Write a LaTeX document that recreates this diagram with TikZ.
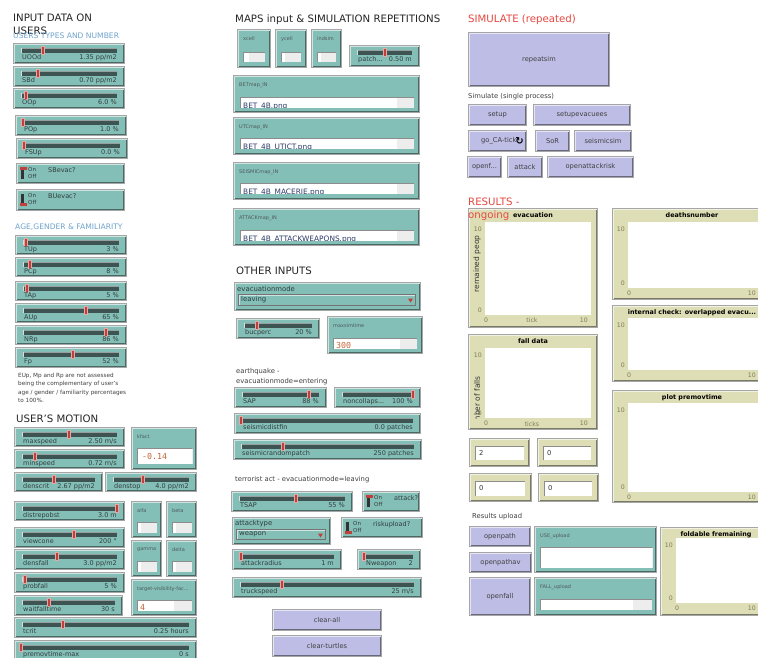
\documentclass[tikz,border=0pt]{standalone}
\usepackage{fontspec}
\setmainfont{DejaVu Sans}
\newfontfamily\monof{DejaVu Sans Mono}
\definecolor{teal1}{HTML}{84BFB7}
\definecolor{btnc}{HTML}{BDBDE6}
\definecolor{beige}{HTML}{DEDEB6}
\definecolor{trk}{HTML}{3E5452}
\definecolor{knob}{HTML}{C2403C}
\definecolor{txt}{HTML}{2F3D3D}
\definecolor{hblue}{HTML}{6FA3CC}
\definecolor{hred}{HTML}{E5483F}
\definecolor{orng}{HTML}{C8643A}
\definecolor{axisc}{HTML}{7D7B55}
\definecolor{navy}{HTML}{2B3A67}

\newcommand\wframe[5]{%
 \fill[black!35] (#1,#2) rectangle (#3,#4);
 \fill[#5] (#1+1,#2+1) rectangle (#3-1,#4-1);
 \draw[white!60!#5,line width=0.9pt] (#1+1.5,#4-1.5) -- (#1+1.5,#2+1.5) -- (#3-1.5,#2+1.5);
 \draw[black!45!#5,line width=0.9pt] (#1+1.5,#4-1.5) -- (#3-1.5,#4-1.5) -- (#3-1.5,#2+1.5);
}
\newcommand\sld[7]{%
 \wframe{#1}{#2}{#3}{#4}{teal1}
 \fill[trk] (#1+8,#2+5) rectangle (#3-8,#2+10);
 \draw[trk!55!white,line width=0.6pt] (#1+8,#2+5.3) -- (#3-8,#2+5.3);
 \draw[white!80!trk,line width=0.6pt] (#1+8.3,#2+5) -- (#1+8.3,#2+10);
 \fill[knob!45!white] (#5-2,#2+3) rectangle (#5+2,#2+11.5);
 \fill[knob] (#5-1.3,#2+3.7) rectangle (#5+1.3,#2+10.8);
 \node[slbl] at (#1+9,#2+14.5) {#6};
 \node[sval] at (#3-8,#2+14.5) {#7};
}
\newcommand\swt[6]{%
 \wframe{#1}{#2}{#3}{#4}{teal1}
 \fill[black!80] (#1+5,#2+5) rectangle (#1+8,#2+16);
 \ifnum#5=1 \fill[knob] (#1+4,#2+4) rectangle (#1+11,#2+7);
 \else \fill[knob] (#1+4,#2+14) rectangle (#1+11,#2+17);\fi
 \node[onoff] at (#1+12,#2+6.5) {On};
 \node[onoff] at (#1+12,#2+13.5) {Off};
 \node[slbl] at (#1+32,#2+7.5) {#6};
}
\newcommand\inpw[5]{%
 \wframe{#1}{#2}{#3}{#4}{teal1}
 \node[tinyl] at (#1+6,#2+10) {#5};
}
\newcommand\fld[5]{%
 \fill[black!45] (#1,#2) rectangle (#3,#4);
 \fill[white] (#1+0.8,#2+0.8) rectangle (#3-0.4,#4-0.4);
 \fill[black!7] (#5,#2+0.8) rectangle (#3-0.4,#4-0.4);
}
\newcommand\fldtxt[6]{%
 \begin{scope}
 \clip (#1+1,#2+1) rectangle (#3-1,#4-0.5);
 \node[#5] at (#1+3,#2+10.3) {#6};
 \end{scope}
}
\newcommand\btn[5]{%
 \wframe{#1}{#2}{#3}{#4}{btnc}
 \node[blbl] at ({(#1+#3)/2},{(#2+#4)/2}) {#5};
}
\newcommand\chs[6]{%
 \wframe{#1}{#2}{#3}{#4}{teal1}
 \node[chl] at (#1+3,#2+6.5) {#5};
 \fill[black!55] (#1+4,#2+12) rectangle (#3-5,#4-5);
 \fill[teal1] (#1+5,#2+13) rectangle (#3-6,#4-6);
 \draw[white!60!teal1,line width=0.8pt] (#1+5.4,#4-6) -- (#1+5.4,#2+13.4) -- (#3-6,#2+13.4);
 \node[chl] at (#1+7,{(#2+#4+7)/2}) {#6};
 \fill[knob] (#3-13,#2+16.5) -- (#3-8,#2+16.5) -- (#3-10.5,#2+20.5) -- cycle;
}
\newcommand\plotw[9]{%
 \wframe{#1}{#2}{#3}{#4}{beige}
 \fill[white] (#5,#6) rectangle (#7,#8);
 \node[ptitle] at ({(#1+#3)/2},#2+7.5) {#9};
 \node[ax,anchor=east] at (#5-3,#6+7) {10};
 \node[ax,anchor=east] at (#5-3,#8-5) {0};
 \node[ax] at (#5+1,#8+5) {0};
 \node[ax,anchor=east] at (#7-3,#8+5) {10};
}
\newcommand\mon[9]{%
 \wframe{#1}{#2}{#3}{#4}{beige}
 \fill[black!45] (#5,#6) rectangle (#7,#8);
 \fill[white] (#5+0.8,#6+0.8) rectangle (#7-0.4,#8-0.4);
 \node[mval] at (#5+4,{(#6+#8)/2}) {#9};
}

\begin{document}
\begin{tikzpicture}[x=1pt,y=-1pt,
 slbl/.style={font=\fontsize{6.5}{7}\selectfont,text=txt,inner sep=0pt,anchor=west},
 sval/.style={slbl,anchor=east},
 tinyl/.style={font=\fontsize{5}{6}\selectfont,text=txt!85,inner sep=0pt,anchor=west},
 onoff/.style={font=\fontsize{5.5}{6}\selectfont,text=txt,inner sep=0pt,anchor=west},
 chl/.style={font=\fontsize{6.9}{7}\selectfont,text=txt,inner sep=0pt,anchor=west},
 blbl/.style={font=\fontsize{6.7}{7}\selectfont,text=black!75,inner sep=0pt},
 head/.style={font=\fontsize{10.2}{11}\selectfont,text=black!85,inner sep=0pt,anchor=west},
 subhead/.style={font=\fontsize{7.6}{8}\selectfont,text=hblue,inner sep=0pt,anchor=west},
 small/.style={font=\fontsize{6.8}{7}\selectfont,text=black!75,inner sep=0pt,anchor=west},
 note/.style={font=\fontsize{5.7}{8.3}\selectfont,text=black!75,inner sep=0pt,anchor=north west,align=left},
 ptitle/.style={font=\bfseries\fontsize{6.4}{7}\selectfont,inner sep=0pt},
 ax/.style={font=\fontsize{6.2}{7}\selectfont,text=axisc,inner sep=0pt},
 ylab/.style={font=\fontsize{7.5}{8}\selectfont,text=black!80,inner sep=0pt,rotate=90},
 monov/.style={font=\monof\fontsize{8.3}{9}\selectfont,text=orng,inner sep=0pt,anchor=base west},
 fname/.style={font=\fontsize{7.4}{8}\selectfont,text=navy,inner sep=0pt,anchor=base west,yshift=-1.2pt},
 mval/.style={font=\fontsize{6.8}{7}\selectfont,text=black!80,inner sep=0pt,anchor=west}]
\useasboundingbox (0,0) rectangle (758,657);
\clip (0,0) rectangle (758,657);
\fill[white] (0,0) rectangle (758,657);

% ---------------- left column
\node[head] (h1) at (13,18) {INPUT DATA ON};
\node[head] (h1b) at (13,31) {USERS};
\node[subhead] (s1) at (13,36) {USERS TYPES AND NUMBER};
\sld{13}{43}{125}{64}{43}{UOOd}{1.35 pp/m2}
\sld{13}{66}{125}{87}{38}{SBd}{0.70 pp/m2}
\sld{13}{88}{125}{109}{26}{OOp}{6.0 \%}
\sld{15}{115}{127}{136}{23}{POp}{1.0 \%}
\sld{16}{138}{128}{159}{24}{FSUp}{0.0 \%}
\swt{16}{163}{125}{184}{1}{SBevac?}
\swt{16}{189}{125}{211}{0}{BUevac?}
\node[subhead] (s2) at (15,227) {AGE,GENDER \& FAMILIARITY};
\sld{15}{235}{127}{255}{26}{TUp}{3 \%}
\sld{15}{257}{127}{277}{30}{PCp}{8 \%}
\sld{15}{281}{127}{301}{27}{TAp}{5 \%}
\sld{15}{303}{127}{323}{86}{AUp}{65 \%}
\sld{15}{325}{127}{345}{106}{NRp}{86 \%}
\sld{15}{347}{127}{368}{73}{Fp}{52 \%}
\node[note] (nt) at (18,373) {EUp, Mp and Rp are not assessed\\being the complementary of user's\\age / gender / familiarity percentages\\to 100\%.};
\node[head] (h2) at (16,419) {USER'S MOTION};
\sld{14}{427}{125}{447}{69}{maxspeed}{2.50 m/s}
\sld{14}{449}{125}{469}{35}{minspeed}{0.72 m/s}
\inpw{131}{427}{197}{470}{kfact}
\fld{137}{448}{192}{464}{192}
\node[monov,anchor=west] (kv) at (142,456) {-0.14};
\sld{14}{472}{103}{492}{54}{denscrit}{2.67 pp/m2}
\sld{105}{472}{197}{492}{143}{denstop}{4.0 pp/m2}
\sld{14}{501}{125}{521}{117}{distrepobst}{3.0 m}
\inpw{131}{501}{162}{538}{alfa} \fld{137}{522}{157}{533}{141}
\inpw{166}{501}{197}{538}{beta} \fld{172}{522}{192}{533}{176}
\sld{14}{527}{125}{548}{74}{viewcone}{200 °}
\inpw{131}{540}{162}{577}{gamma} \fld{137}{561}{157}{572}{141}
\inpw{166}{540}{197}{577}{delta} \fld{172}{561}{192}{572}{176}
\sld{14}{549}{125}{570}{57}{densfall}{3.0 pp/m2}
\sld{14}{572}{125}{593}{25}{probfall}{5 \%}
\inpw{131}{579}{197}{616}{target-visibility-fac...}
\fld{137}{600}{192}{611}{174}
\fldtxt{137}{600}{192}{611}{monov}{4}
\sld{14}{595}{123}{616}{49}{waitfalltime}{30 s}
\sld{14}{617}{197}{638}{63}{tcrit}{0.25 hours}
\sld{14}{640}{197}{661}{21}{premovtime-max}{0 s}

% ---------------- middle column
\node[head] (h3) at (235,20) {MAPS input \& SIMULATION REPETITIONS};
\inpw{237}{29}{271}{68}{xcell} \fld{243}{52}{265}{62}{249}
\inpw{275}{29}{307}{68}{ycell} \fld{281}{52}{301}{62}{285}
\inpw{311}{29}{342}{68}{indsim} \fld{317}{52}{336}{62}{321}
\sld{349}{45}{420}{67}{385}{patch...}{0.50 m}
\inpw{233}{75}{420}{113}{BETmap\_IN} \fld{240}{97}{414}{108}{397}
\fldtxt{240}{97}{414}{108}{fname}{BET\_4B.png}
\inpw{233}{117}{420}{155}{UTCmap\_IN} \fld{240}{138}{414}{149}{397}
\fldtxt{240}{138}{414}{149}{fname}{BET\_4B\_UTICT.png}
\inpw{233}{162}{420}{200}{SEISMICmap\_IN} \fld{240}{183}{414}{194}{397}
\fldtxt{240}{183}{414}{194}{fname}{BET\_4B\_MACERIE.png}
\inpw{233}{208}{420}{246}{ATTACKmap\_IN} \fld{240}{230}{414}{241}{397}
\fldtxt{240}{230}{414}{241}{fname}{BET\_4B\_ATTACKWEAPONS.png}
\node[head] (h4) at (236,271) {OTHER INPUTS};
\chs{234}{282}{421}{311}{evacuationmode}{leaving}
\sld{236}{318}{320}{339}{257}{bucperc}{20 \%}
\inpw{327}{316}{423}{354}{maxsimtime} \fld{333}{338}{417}{349}{400}
\fldtxt{333}{338}{417}{349}{monov}{300}
\node[small] (eq1) at (236,372) {earthquake -};
\node[small] (eq2) at (236,382) {evacuationmode=entering};
\sld{234}{387}{327}{408}{309}{SAP}{88 \%}
\sld{334}{387}{421}{408}{413}{noncollaps...}{100 \%}
\sld{234}{413}{421}{434}{241}{seismicdistfin}{0.0 patches}
\sld{233}{439}{422}{460}{283}{seismicrandompatch}{250 patches}
\node[small] (ta) at (235,480) {terrorist act - evacuationmode=leaving};
\sld{231}{491}{353}{512}{296}{TSAP}{55 \%}
\swt{362}{491}{420}{512}{1}{attack?}
\chs{232}{517}{331}{545}{attacktype}{weapon}
\swt{341}{517}{423}{538}{0}{riskupload?}
\sld{232}{549}{342}{570}{241}{attackradius}{1 m}
\sld{357}{549}{421}{570}{364}{Nweapon}{2}
\sld{232}{577}{422}{598}{282}{truckspeed}{25 m/s}
\btn{272}{609}{382}{631}{clear-all}
\btn{272}{635}{382}{657}{clear-turtles}

% ---------------- right column
\node[head,text=hred] (h5) at (468,20) {SIMULATE (repeated)};
\btn{468}{32}{610}{87}{repeatsim}
\node[small] (ss) at (468,97) {Simulate (single process)};
\btn{468}{104}{527}{126}{setup}
\btn{533}{104}{631}{126}{setupevacuees}
\wframe{468}{130}{527}{152}{btnc}
\begin{scope}
\clip (470,131) rectangle (517,151);
\node[blbl,anchor=west] (go) at (481,141) {go\_CA-tick};
\end{scope}
\node[font=\bfseries\fontsize{10}{10}\selectfont,inner sep=0pt] (fv) at (519.5,141.5) {↻};
\btn{535}{130}{570}{152}{SoR}
\btn{574}{130}{632}{152}{seismicsim}
\btn{467}{156}{502}{178}{openf...}
\btn{507}{156}{543}{178}{attack}
\btn{547}{156}{634}{178}{openattackrisk}
\node[head,text=hred] (h6) at (468,202) {RESULTS -};

\plotw{468}{208}{598}{328}{485}{222}{591}{315}{evacuation}
\node[ax] (tx1) at (532,320) {tick};
\node[ylab] (yl1) at (477,264) {remained peop};
\node[head,text=hred] (og) at (468,216) {ongoing};
\plotw{612}{208}{772}{300}{628}{222}{759}{288}{deathsnumber}
\plotw{612}{305}{772}{382}{628}{318}{759}{370}{internal check: overlapped evacu...}
\plotw{468}{334}{598}{430}{485}{348}{591}{418}{fall data}
\node[ax] (tx2) at (532,424) {ticks};
\begin{scope}
\clip (469,371) rectangle (484,418);
\node[ylab,anchor=west] (yl2) at (477,433) {number of falls};
\end{scope}
\plotw{612}{390}{772}{503}{628}{403}{759}{492}{plot premovtime}

\mon{469}{438}{530}{467}{475}{446}{524}{460}{2}
\mon{537}{438}{598}{467}{543}{446}{591}{460}{0}
\mon{469}{473}{532}{502}{475}{481}{525}{496}{0}
\mon{538}{473}{599}{502}{544}{481}{592}{496}{0}

\node[small] (ru) at (472,517) {Results upload};
\btn{469}{526}{531}{547}{openpath}
\btn{469}{552}{532}{573}{openpathav}
\btn{469}{577}{531}{616}{openfall}
\inpw{534}{526}{657}{573}{USE\_upload} \fld{540}{547}{652}{568}{652}
\inpw{534}{577}{657}{616}{FALL\_upload} \fld{540}{599}{652}{610}{633}
\plotw{660}{527}{772}{616}{676}{538}{759}{603}{foldable fremaining}
\end{tikzpicture}
\end{document}
